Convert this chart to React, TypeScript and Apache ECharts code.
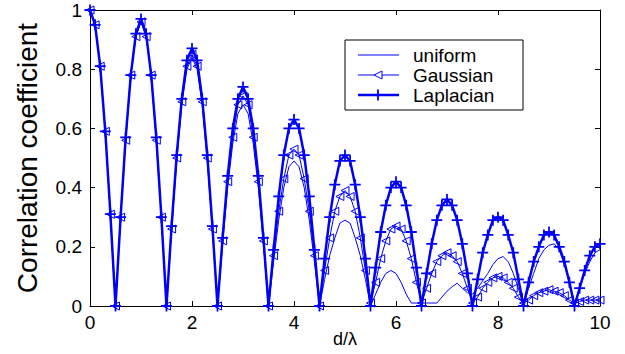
import React, { useEffect, useRef } from "react";
import * as echarts from "echarts";

const D = [
  0, 0.1, 0.2, 0.3, 0.4, 0.5, 0.6, 0.7, 0.8, 0.9,
  1, 1.1, 1.2, 1.3, 1.4, 1.5, 1.6, 1.7, 1.8, 1.9,
  2, 2.1, 2.2, 2.3, 2.4, 2.5, 2.6, 2.7, 2.8, 2.9,
  3, 3.1, 3.2, 3.3, 3.4, 3.5, 3.6, 3.7, 3.8, 3.9,
  4, 4.1, 4.2, 4.3, 4.4, 4.5, 4.6, 4.7, 4.8, 4.9,
  5, 5.1, 5.2, 5.3, 5.4, 5.5, 5.6, 5.7, 5.8, 5.9,
  6, 6.1, 6.2, 6.3, 6.4, 6.5, 6.6, 6.7, 6.8, 6.9,
  7, 7.1, 7.2, 7.3, 7.4, 7.5, 7.6, 7.7, 7.8, 7.9,
  8, 8.1, 8.2, 8.3, 8.4, 8.5, 8.6, 8.7, 8.8, 8.9,
  9, 9.1, 9.2, 9.3, 9.4, 9.5, 9.6, 9.7, 9.8, 9.9,
  10,
];

const UNIFORM = [
  1.0,
  0.95, 0.81, 0.59, 0.31, 0, 0.30, 0.56, 0.78, 0.91, 0.96,
  0.91, 0.78, 0.56, 0.30, 0, 0.26, 0.49, 0.68, 0.80, 0.84,
  0.80, 0.68, 0.49, 0.26, 0, 0.21, 0.40, 0.55, 0.65, 0.68,
  0.65, 0.55, 0.40, 0.21, 0, 0.15, 0.29, 0.40, 0.47, 0.49,
  0.47, 0.40, 0.29, 0.15, 0, 0.09, 0.17, 0.23, 0.28, 0.29,
  0.28, 0.23, 0.17, 0.09, 0, 0.04, 0.08, 0.11, 0.12, 0.11,
  0.08, 0.04, 0.01, 0.01, 0.01, 0.01, 0.01, 0.01, 0.03, 0.05,
  0.065, 0.077, 0.06, 0.045, 0.04, 0.06, 0.085, 0.11, 0.14, 0.16,
  0.167, 0.15, 0.11, 0.06, 0.0, 0.06, 0.11, 0.16, 0.19, 0.205,
  0.21, 0.19, 0.14, 0.08, 0.01, 0.06, 0.11, 0.15, 0.18, 0.19,
];

const GAUSSIAN = [
  1.0,
  0.95, 0.81, 0.59, 0.31, 0, 0.30, 0.56, 0.78, 0.91, 0.96,
  0.91, 0.78, 0.56, 0.30, 0, 0.26, 0.50, 0.69, 0.81, 0.85,
  0.81, 0.69, 0.50, 0.26, 0, 0.22, 0.42, 0.57, 0.68, 0.71,
  0.68, 0.57, 0.42, 0.22, 0, 0.17, 0.32, 0.43, 0.51, 0.53,
  0.51, 0.43, 0.32, 0.17, 0, 0.12, 0.23, 0.32, 0.37, 0.39,
  0.37, 0.32, 0.23, 0.12, 0.01, 0.08, 0.16, 0.22, 0.26, 0.27,
  0.26, 0.22, 0.16, 0.08, 0.01, 0.06, 0.11, 0.15, 0.17, 0.18,
  0.17, 0.15, 0.11, 0.06, 0.01, 0.03, 0.06, 0.08, 0.095, 0.10,
  0.095, 0.08, 0.06, 0.03, 0.01, 0.02, 0.035, 0.045, 0.05, 0.055,
  0.05, 0.045, 0.035, 0.02, 0.01, 0.015, 0.02, 0.02, 0.02, 0.02,
];

const LAPLACIAN = [
  1.0,
  0.95, 0.81, 0.59, 0.31, 0, 0.30, 0.57, 0.78, 0.92, 0.97,
  0.92, 0.78, 0.57, 0.30, 0, 0.27, 0.51, 0.70, 0.83, 0.87,
  0.83, 0.70, 0.51, 0.27, 0, 0.23, 0.44, 0.60, 0.70, 0.74,
  0.70, 0.60, 0.44, 0.23, 0, 0.19, 0.37, 0.51, 0.60, 0.63,
  0.60, 0.51, 0.37, 0.19, 0, 0.16, 0.30, 0.41, 0.49, 0.51,
  0.49, 0.41, 0.30, 0.16, 0, 0.13, 0.25, 0.34, 0.40, 0.42,
  0.40, 0.34, 0.25, 0.13, 0, 0.11, 0.21, 0.29, 0.34, 0.36,
  0.34, 0.29, 0.21, 0.11, 0, 0.09, 0.18, 0.24, 0.29, 0.30,
  0.29, 0.24, 0.18, 0.09, 0, 0.08, 0.15, 0.20, 0.24, 0.25,
  0.24, 0.20, 0.15, 0.08, 0, 0.06, 0.12, 0.17, 0.20, 0.21,
];

const SERIES_NAMES = ["uniform", "Gaussian", "Laplacian"];
const X_TITLE = "d/λ";
const Y_TITLE = "Correlation coefficient";

const BLUE = "#0000ff";
const FONT = "'Liberation Sans', Arial, Helvetica, sans-serif";
const PLUS = "path://M0 4.2H10V5.8H0Z M4.2 0H5.8V10H4.2Z";

const pairs = (ys: number[]) => D.map((d, i) => [d, ys[i]]);

export default function App() {
  const ref = useRef<HTMLDivElement>(null);
  useEffect(() => {
    document.body.style.margin = "0";
    const chart = echarts.init(ref.current!, null, { renderer: "svg" });
    const axisCommon = {
      min: 0,
      axisLine: { show: true, onZero: false, lineStyle: { color: "#000", width: 1 } },
      axisTick: { show: true, inside: true, length: 5, lineStyle: { color: "#000" } },
      splitLine: { show: false },
    };
    const lx = 345, ly = 40, lw = 178, lh = 70;
    const rows = [ly + 15, ly + 35, ly + 55];
    const sx0 = 358, sx1 = 399, smid = 378;
    chart.setOption({
      animation: false,
      backgroundColor: "#fff",
      grid: { left: 90, right: 25, top: 10, bottom: 48, containLabel: false, outerBoundsMode: "none" },
      xAxis: [
        {
          ...axisCommon,
          type: "value",
          max: 10,
          interval: 2,
          position: "bottom",
          name: X_TITLE,
          nameLocation: "middle",
          nameGap: 24,
          nameMoveOverlap: false,
          nameTextStyle: { fontSize: 18, color: "#000", fontFamily: FONT },
          axisLabel: { fontSize: 19, color: "#000", fontFamily: FONT, margin: 7 },
        },
        {
          ...axisCommon,
          type: "value",
          max: 10,
          interval: 2,
          position: "top",
          axisLabel: { show: false },
        },
      ],
      yAxis: [
        {
          ...axisCommon,
          type: "value",
          max: 1,
          interval: 0.2,
          position: "left",
          name: Y_TITLE,
          nameLocation: "middle",
          nameRotate: 90,
          nameGap: 49,
          nameMoveOverlap: false,
          nameTextStyle: { fontSize: 28, color: "#000", fontFamily: FONT },
          axisLabel: { fontSize: 19, color: "#000", fontFamily: FONT, margin: 8 },
        },
        {
          ...axisCommon,
          type: "value",
          max: 1,
          interval: 0.2,
          position: "right",
          axisLabel: { show: false },
        },
      ],
      series: [
        {
          name: SERIES_NAMES[0],
          type: "line",
          data: pairs(UNIFORM),
          symbol: "none",
          lineStyle: { color: BLUE, width: 1 },
          itemStyle: { color: BLUE },
          z: 2,
        },
        {
          name: SERIES_NAMES[1],
          type: "line",
          data: pairs(GAUSSIAN),
          symbol: "triangle",
          symbolRotate: 90,
          symbolSize: [8, 8],
          showAllSymbol: true,
          lineStyle: { color: BLUE, width: 1 },
          itemStyle: { color: "rgba(0,0,0,0)", borderColor: BLUE, borderWidth: 1 },
          z: 3,
        },
        {
          name: SERIES_NAMES[2],
          type: "line",
          data: pairs(LAPLACIAN),
          symbol: PLUS,
          symbolSize: 11,
          showAllSymbol: true,
          lineStyle: { color: BLUE, width: 2.5 },
          itemStyle: { color: BLUE, borderWidth: 0 },
          z: 4,
        },
      ],
      graphic: [
        {
          type: "rect",
          shape: { x: lx, y: ly, width: lw, height: lh },
          style: { fill: "#fff", stroke: "#000", lineWidth: 1 },
          z: 100,
        },
        {
          type: "line",
          shape: { x1: sx0, y1: rows[0], x2: sx1, y2: rows[0] },
          style: { stroke: BLUE, lineWidth: 1 },
          z: 101,
        },
        {
          type: "line",
          shape: { x1: sx0, y1: rows[1], x2: sx1, y2: rows[1] },
          style: { stroke: BLUE, lineWidth: 1 },
          z: 101,
        },
        {
          type: "polygon",
          shape: { points: [[smid - 4, rows[1]], [smid + 4, rows[1] - 4], [smid + 4, rows[1] + 4]] },
          style: { fill: "#fff", stroke: BLUE, lineWidth: 1 },
          z: 102,
        },
        {
          type: "line",
          shape: { x1: sx0, y1: rows[2], x2: sx1, y2: rows[2] },
          style: { stroke: BLUE, lineWidth: 2.5 },
          z: 101,
        },
        {
          type: "line",
          shape: { x1: smid, y1: rows[2] - 5.5, x2: smid, y2: rows[2] + 5.5 },
          style: { stroke: BLUE, lineWidth: 1.8 },
          z: 102,
        },
        ...SERIES_NAMES.map((n, i) => ({
          type: "text",
          x: 413,
          y: rows[i],
          style: {
            text: n,
            fontSize: 19,
            fontFamily: FONT,
            fill: "#000",
            textVerticalAlign: "middle",
            verticalAlign: "middle",
          },
          z: 103,
        })),
      ],
    });
    return () => chart.dispose();
  }, []);
  return <div ref={ref} style={{ width: 625, height: 354 }} />;
}
